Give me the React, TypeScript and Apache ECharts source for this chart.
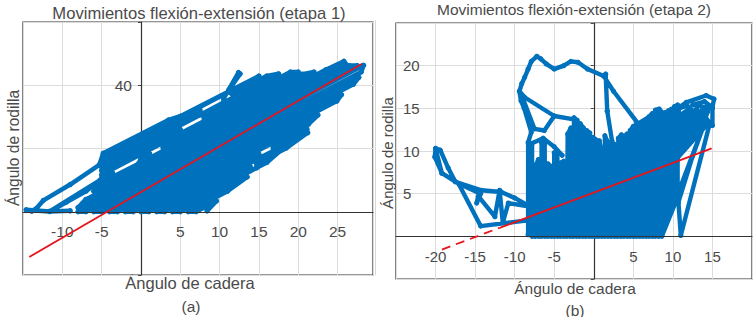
import React, { useEffect, useRef } from "react";
import * as echarts from "echarts";

const titles = ["Movimientos flexión-extensión (etapa 1)", "Movimientos flexión-extensión (etapa 2)"];
const xName = "Ángulo de cadera";
const yName = "Ángulo de rodilla";
const xLabels1 = [-10, -5, 5, 10, 15, 20, 25];
const yLabels1 = [20, 40];
const xLabels2 = [-20, -15, -10, -5, 5, 10, 15];
const yLabels2 = [5, 10, 15, 20];

const fit1 = [[-14.2, -14.3], [28.1, 46.8]];
const fit2Solid = [[-11.9, 1], [14.9, 10.3]];
const fit2Dashed = [[-19.2, -1.55], [-11.9, 1]];

const stage1Path = [
  [-9, 0.3], [-11.6, 0.1], [-9.5, 3], [-7, 6.5], [-5.2, 10], [-11.6, 0.1], [-14.6, 0.6], [-13.9, 0.2], [-13.3, 1], [-12.4, 3.6], [-9, 8.6], [-5.3, 14.8],
  [-4.8, 18.5], [3.5, 29], [5, 30.2], [15, 42.9], [-4.8, 17.2], [-5, 15.6], [7.5, 32.2], [7.5, 30.6], [10.5, 34.5], [10.5, 35.8],
  [12.4, 44], [12.6, 43.6], [11.2, 38.6], [11.5, 37.4], [16, 42.9], [17.5, 43.6], [-5, 14.3], [-5, 13], [5, 26], [5, 24.7], [8, 28.6], [8, 30], [19, 44.2], [20, 44.2], [-5, 11.7],
  [-5, 10.4], [-3.6, 12.2], [-3.5, 11.1], [-0.3, 15.2], [0, 16.9], [1.1, 18.3], [1.1, 17], [2.8, 19.2], [2.8, 20.5], [20.5, 43.5], [22, 44.2], [-0.3, 15.2], [-5.5, 8.5], [-6, 6.5], [23.5, 44.9],
  [25.8, 47.6], [26, 46.8], [24.5, 44.8], [25, 45.5], [-7, 3.9], [-8, 1.3], [26.5, 46.2], [27.5, 46.2], [-8, 0], [-7, 0], [28.3, 46.3], [28, 44.2],
  [-6, 0], [-5, 0], [27.7, 42.5], [27, 40.3], [-4, 0], [-3, 0], [25.5, 37], [24.9, 35], [-2, 0], [-1, 0], [22.5, 30.6], [21.3, 27.7], [0, 0], [1, 0],
  [15, 18.2], [15, 16.9], [16.8, 19.2], [16.8, 20.5], [21.1, 26.1], [18.5, 21.4], [2, 0], [3, 0], [13.9, 14.2], [13.9, 13], [14.7, 13.9], [14.7, 15.2], [18.5, 20.2], [21.2, 25], [20.8, 26], [16, 15.6], [4, 0], [5, 0], [13.5, 11], [11, 6.5], [6, 0], [7, 0], [9.6, 3.4], [8.4, 0.3],
];

const stage2Path = [
  [-20, 10.3], [-19.4, 10.1], [-18.4, 8], [-17.5, 6.4], [-19.2, 7.4], [-20.1, 9.3], [-20, 10.3], [-19.2, 7.4], [-17.5, 6.4], [-14.2, 5.4], [-11.7, 5.2], [-10, 4.5], [-8.1, 3.5],
  [-10.8, 3.9], [-11.5, 1.6], [-11.9, 5.4], [-12.5, 2.3], [-14.6, 4.7], [-14.8, 3.9], [-14.3, 5], [-17.1, 6.2], [-14.3, 1.2], [-8.1, 1.9],
  [-8.3, 0.2], [-8.3, 11], [-7.9, 12.2], [-8.8, 15], [-9.2, 15.9], [-9.4, 17], [-8.75, 16.3], [-5, 14.1], [-2.5, 13.7], [-5, 14.1], [-6.25, 12.4], [-7.5, 12.6], [-8.9, 16], [-9.4, 17],
  [-9.1, 17.9], [-8.75, 18.6], [-8.3, 19.6], [-7.9, 20.5], [-7.2, 21.1], [-6.7, 20.8], [-6, 20.2], [-5, 19.6], [-3.8, 20], [-2.9, 20.5], [-2, 20.4], [-0.8, 19.6], [1.25, 18.8], [1.5, 19], [1.7, 14.7], [2.3, 11.2], [1.7, 14.7], [1.5, 19], [1.25, 18.8], [2.5, 17], [5.6, 13.2],
  [7, 14], [8.3, 14.9], [8.8, 14.3], [10, 14.6], [11.7, 15.7], [14.2, 16.5], [15.2, 16.1], [15, 15.1], [14, 15.8], [12.5, 15.4], [15, 15], [15, 13], [14.6, 13.4],
  [10.6, 9.2], [10.6, 9.6], [14.3, 13.7], [14, 13.9], [10.6, 10], [10.6, 10.4], [14.2, 14.2], [14.4, 14.6], [10.6, 10.8], [10.6, 11.2], [14.5, 15], [14.6, 15.3], [13, 14.4], [10.6, 11.6], [10.6, 12], [12.6, 13.6], [13.4, 14.4], [10.6, 12.4], [10.6, 12.8], [13, 14.9], [11.8, 14.2], [10.6, 13.2], [10.6, 13.6], [12, 14.9], [10.6, 14], [10.7, 14.6], [10.8, 15], [11.8, 15.3],
  [14.6, 13], [11, 0.1], [10.7, 4], [12.5, 9.4], [13.9, 13], [8.6, 0], [10.6, 4.6], [10.6, 15.4], [10.2, 15.2], [10.2, 4], [9.8, 3], [9.8, 14.9], [9.4, 14.7], [9.4, 2.2], [9, 1.5], [9, 14.5], [8.6, 14.4], [8.6, 0.4],
  [8.2, 0], [8.2, 14.9], [7.8, 14.8], [7.8, 0], [7.4, 0], [7.4, 14.4], [7, 14], [7, 0], [6.6, 0], [6.6, 13.6], [6.2, 13.3], [6.2, 0], [5.8, 0], [5.8, 13], [5.4, 13.2], [5.4, 0], [5, 0], [5, 12.9], [4.6, 12.4], [4.6, 0],
  [4.2, 0], [4.2, 12], [3.8, 11.6], [3.8, 0], [3.4, 0], [3.5, 11.9], [3.1, 11.5], [3, 0], [2.6, 0], [2.6, 10.8], [2.2, 11], [2.2, 0], [1.8, 0], [1.8, 11], [1.4, 11.8], [1.4, 0], [1, 0], [1, 9.8], [0.7, 11.2], [0.6, 0],
  [0.2, 0], [0.3, 11.3], [-0.1, 11.6], [-0.2, 0], [-0.6, 0], [-0.5, 12.1], [-0.9, 12.4], [-1, 0], [-1.4, 0], [-1.3, 12.7], [-1.7, 13.2], [-1.8, 0], [-2.2, 0], [-2.1, 13.6], [-2.5, 13.9], [-2.6, 0],
  [-3, 0], [-2.9, 12.7], [-3.3, 12], [-3.4, 0], [-3.8, 0], [-3.8, 8.8], [-4.2, 8.6], [-4.2, 0], [-4.6, 0], [-4.6, 10], [-5, 9.8], [-5, 0], [-5.4, 0], [-5.4, 8.2], [-5.8, 8.5], [-5.8, 0], [-6.2, 0], [-6.2, 11.3], [-6.6, 11], [-6.6, 0],
  [-7, 0], [-7, 9], [-7.4, 8.2], [-7.4, 0], [-7.8, 0], [-7.8, 10.9], [-6.4, 11.5], [-5, 10.5], [-4, 9.5],
];

const TEXT = "#4a4a4a";
const BLUE = "#0072BD";
const RED = "#E8141C";
const FONT = "'Liberation Sans', Arial, sans-serif";

function showOnly(list: number[]) {
  return (v: number) => (list.includes(v) ? String(v) : "");
}

function xAxes(gridIndex: number, min: number, max: number, labels: number[], margin: number, fontSize: number) {
  return [
    {
      type: "value", gridIndex, min, max, interval: 5, z: 3,
      splitLine: { show: false },
      axisLine: { show: true, onZero: true, lineStyle: { color: "#333", width: 1.2 } },
      axisTick: { show: false },
      axisLabel: { show: true, margin, color: TEXT, fontFamily: FONT, fontSize, hideOverlap: false, showMinLabel: true, showMaxLabel: true, formatter: showOnly(labels) },
    },
    {
      type: "value", gridIndex, min, max, interval: 5, z: 0, position: "top",
      splitLine: { show: true, lineStyle: { color: "#dcdcdc", width: 1 } },
      axisLine: { show: false, onZero: false },
      axisTick: { show: false },
      axisLabel: { show: false },
    },
  ];
}

function yAxis(gridIndex: number, min: number, max: number, interval: number, labels: number[], inside: boolean, margin: number, fontSize: number) {
  return {
    type: "value", gridIndex, min, max, interval, z: 0,
    splitLine: { show: true, lineStyle: { color: "#dcdcdc", width: 1 } },
    axisLine: { show: true, onZero: true, lineStyle: { color: "#333", width: 1.2 } },
    axisTick: { show: true, length: 3, lineStyle: { color: "#444" } },
    axisLabel: { inside, margin, color: TEXT, fontFamily: FONT, fontSize, showMinLabel: true, showMaxLabel: true, formatter: showOnly(labels) },
  };
}

function pathSeries(xAxisIndex: number, yAxisIndex: number, data: number[][], width: number) {
  return {
    type: "line", xAxisIndex, yAxisIndex, data, z: 2,
    showSymbol: true, symbol: "circle", symbolSize: width + 0.8, clip: false,
    lineStyle: { color: BLUE, width, cap: "round", join: "round" },
    itemStyle: { color: BLUE },
  };
}

function fitSeries(xAxisIndex: number, yAxisIndex: number, data: number[][], dashed: boolean) {
  return {
    type: "line", xAxisIndex, yAxisIndex, data, z: 4, showSymbol: false, symbol: "none",
    lineStyle: { color: RED, width: 1.8, type: dashed ? [9, 6] : "solid" },
  };
}

function txt(x: number, y: number, text: string, size: number, rotation = 0) {
  return {
    type: "text", x, y, rotation,
    style: { text, fill: TEXT, font: `${size}px ${FONT}`, textAlign: "center", textVerticalAlign: "middle" },
  };
}

export default function App() {
  const ref = useRef<HTMLDivElement>(null);
  useEffect(() => {
    const chart = echarts.init(ref.current!, undefined, { renderer: "svg" });
    chart.setOption({
      animation: false,
      backgroundColor: "#fff",
      grid: [
        { left: 23, top: 22, width: 350, height: 253, show: true, borderColor: "#333", borderWidth: 1.2, backgroundColor: "transparent" },
        { left: 396, top: 23, width: 358, height: 256, show: true, borderColor: "#333", borderWidth: 1.2, backgroundColor: "transparent" },
      ],
      xAxis: [...xAxes(0, -15, 29.5, xLabels1, -52, 15.5), ...xAxes(1, -25, 20, xLabels2, -30, 15)],
      yAxis: [
        yAxis(0, -20, 60, 20, yLabels1, false, -109, 15.5),
        yAxis(1, -5, 25, 5, yLabels2, true, 7, 15),
      ],
      series: [
        pathSeries(0, 0, stage1Path, 4.6),
        fitSeries(0, 0, fit1, false),
        pathSeries(2, 1, stage2Path, 4.4),
        fitSeries(2, 1, fit2Solid, false),
        fitSeries(2, 1, fit2Dashed, true),
      ],
      graphic: [
        txt(199, 13, titles[0], 16.6),
        txt(574, 9, titles[1], 15.5),
        txt(190, 283, xName, 16.5),
        txt(575, 288, xName, 15.5),
        txt(13, 148, yName, 15.6, Math.PI / 2),
        txt(387, 153, yName, 15, Math.PI / 2),
        txt(191, 306, "(a)", 15.5),
        txt(575, 310, "(b)", 15.5),
        { type: "line", shape: { x1: 375.5, y1: 20, x2: 375.5, y2: 275 }, style: { stroke: "#d8d8d8", lineWidth: 1 } },
      ],
    });
    return () => chart.dispose();
  }, []);
  return <div ref={ref} style={{ position: "absolute", left: 0, top: 0, width: 755, height: 317 }} />;
}
